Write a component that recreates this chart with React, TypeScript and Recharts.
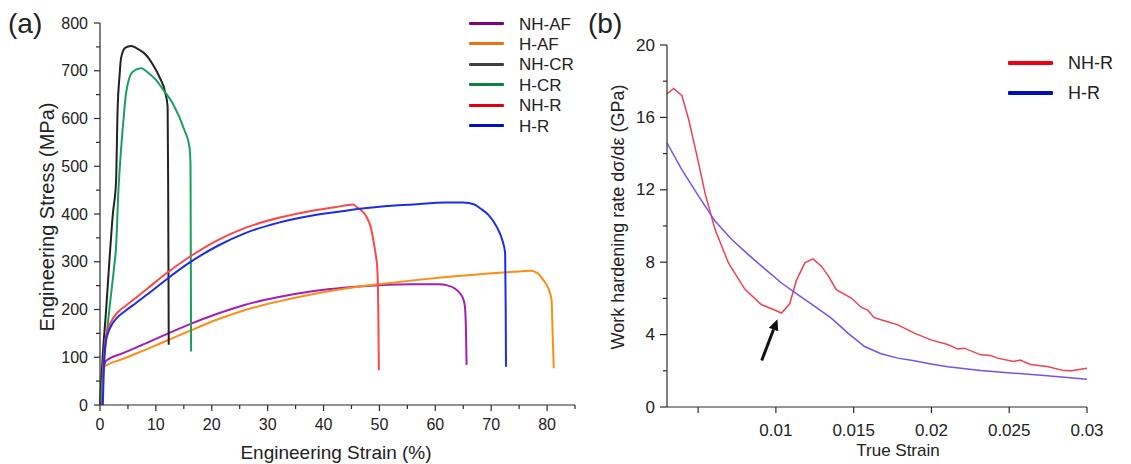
import React from 'react';
import { LineChart, Line, XAxis, YAxis, ReferenceLine } from 'recharts';

const FONT = '"Liberation Sans", Arial, Helvetica, sans-serif';
const AXIS = '#2a2a2a';

// ---- panel (a): engineering stress vs strain ----
const nhAfStrain = [0.2, 0.6, 1.07, 4, 8.2, 12, 16, 21, 26, 32, 38, 44, 50, 56, 60.8, 62, 63.5, 64.4, 65, 65.3, 65.5, 65.6];
const nhAfStress = [0, 70, 92, 108, 129, 149, 169, 191, 210, 226, 238, 246, 251, 253, 253, 251, 244, 234, 222, 206, 150, 84];

const hAfStrain = [0, 0.2, 0.5, 0.77, 4, 8.2, 12, 16, 21, 26, 32, 38, 44, 50, 56, 62, 68, 74, 77, 78.3, 79.3, 80.2, 80.8, 81, 81.2];
const hAfStress = [0, 50, 72, 80, 96, 116, 135, 155, 179, 199, 217, 232, 244, 253, 261, 268, 274, 279, 281, 276, 262, 245, 220, 150, 77];

const nhCrStrain = [0, 0.47, 1.1, 1.67, 2.3, 2.87, 3.15, 3.5, 3.76, 4.5, 5.55, 7, 8.24, 9.5, 10.6, 11.7, 12.1, 12.2, 12.3];
const nhCrStress = [0, 100, 200, 300, 400, 468, 618, 690, 726, 748, 752, 744, 733, 712, 688, 653, 625, 450, 126];

const hCrStrain = [0, 0.77, 1.67, 2.58, 2.87, 3.3, 3.76, 4.3, 4.66, 5.85, 7.35, 8.5, 10, 11.2, 13, 15.1, 16, 16.2, 16.3];
const hCrStress = [0, 100, 200, 295, 330, 450, 534, 610, 653, 698, 705, 697, 681, 662, 632, 576, 541, 503, 112];

const nhRStrain = [0.4, 0.6, 0.9, 1.3, 2, 3, 4.5, 6.5, 8.5, 12, 16, 21, 26, 32, 38, 42, 45.3, 45.9, 47, 47.7, 48.5, 48.9, 49.4, 49.6, 49.8, 49.9];
const nhRStress = [0, 80, 130, 155, 175, 192, 207, 225, 244, 277, 310, 345, 371, 392, 407, 414, 420, 415, 405, 394, 370, 346, 310, 290, 200, 73];

const hRStrain = [0.5, 0.7, 1, 1.5, 2.2, 3, 4.5, 6.5, 8.5, 12, 16, 21, 26, 32, 38, 44, 50, 56, 62, 65, 67, 68, 69.5, 71, 72, 72.5, 72.6, 72.65];
const hRStress = [0, 80, 130, 153, 170, 182, 197, 214, 232, 264, 298, 333, 360, 382, 397, 407, 415, 420, 424, 424, 420, 412, 398, 373, 345, 318, 200, 80];

const seriesA = [
  { name: 'NH-AF', x: nhAfStrain, y: nhAfStress, color: '#a31eb3', legend: '#800080' },
  { name: 'H-AF', x: hAfStrain, y: hAfStress, color: '#ff8c14', legend: '#f07010' },
  { name: 'NH-CR', x: nhCrStrain, y: nhCrStress, color: '#222222', legend: '#404040' },
  { name: 'H-CR', x: hCrStrain, y: hCrStress, color: '#16a05c', legend: '#108040' },
  { name: 'NH-R', x: nhRStrain, y: nhRStress, color: '#ff4646', legend: '#e00010' },
  { name: 'H-R', x: hRStrain, y: hRStress, color: '#1a2ee6', legend: '#0010c0' },
];

const strainTicks = [0, 5, 10, 15, 20, 25, 30, 35, 40, 45, 50, 55, 60, 65, 70, 75, 80, 85];
const stressTicks = [0, 50, 100, 150, 200, 250, 300, 350, 400, 450, 500, 550, 600, 650, 700, 750, 800];

// ---- panel (b): work hardening rate ----
const nhRTrue = [0.003, 0.00343, 0.00396, 0.00439, 0.00492, 0.00545, 0.00609, 0.00695, 0.00801, 0.00908, 0.0098, 0.01036, 0.01089, 0.01132, 0.01186, 0.01239, 0.01292, 0.0134, 0.01388, 0.01485, 0.0155, 0.01591, 0.0163, 0.01676, 0.01784, 0.0189, 0.01997, 0.02104, 0.0217, 0.0221, 0.02317, 0.0238, 0.02424, 0.0253, 0.0257, 0.02637, 0.02744, 0.0285, 0.029, 0.03];
const nhRRate = [17.3, 17.6, 17.2, 15.9, 13.9, 11.8, 9.8, 7.96, 6.5, 5.65, 5.4, 5.19, 5.7, 7.0, 7.96, 8.18, 7.78, 7.2, 6.48, 6.02, 5.5, 5.35, 4.95, 4.82, 4.54, 4.08, 3.71, 3.45, 3.2, 3.25, 2.88, 2.85, 2.7, 2.51, 2.6, 2.35, 2.24, 2.01, 2.0, 2.14];

const hRTrue = [0.003, 0.00396, 0.00503, 0.00609, 0.00716, 0.00823, 0.00929, 0.01036, 0.01143, 0.0125, 0.01356, 0.01463, 0.0157, 0.01676, 0.01784, 0.0189, 0.01997, 0.02104, 0.02317, 0.0253, 0.02744, 0.03];
const hRRate = [14.6, 13.1, 11.65, 10.27, 9.25, 8.42, 7.63, 6.85, 6.2, 5.56, 4.91, 4.08, 3.34, 2.94, 2.7, 2.55, 2.38, 2.23, 2.01, 1.87, 1.72, 1.53];

const seriesB = [
  { name: 'NH-R', x: nhRTrue, y: nhRRate, color: '#f2404c', legend: '#ee0010' },
  { name: 'H-R', x: hRTrue, y: hRRate, color: '#7652ec', legend: '#0010b8' },
];

const trueStrainTicks = [0.005, 0.01, 0.015, 0.02, 0.025, 0.03];
const rateTicks = [0, 2, 4, 6, 8, 10, 12, 14, 16, 18, 20];

// arrow pointing at the NH-R dip
const arrowFrom = { x: 0.00909, y: 2.57 };
const arrowTo = { x: 0.0101, y: 4.85 };

const zip = (xs: number[], ys: number[]) => xs.map((x, i) => ({ x, y: ys[i] }));

const XTickA = ({ x, y, payload }: any) => {
  const major = payload.value % 10 === 0;
  return (
    <g>
      <line x1={x} x2={x} y1={y} y2={y + (major ? 6 : 4)} stroke={AXIS} strokeWidth={1.2} />
      {major && (
        <text x={x} y={y + 19} textAnchor="middle" dominantBaseline="central" fontSize={16} fill="#222" fontFamily={FONT}>
          {payload.value}
        </text>
      )}
    </g>
  );
};

const YTickA = ({ x, y, payload }: any) => {
  const major = payload.value % 100 === 0;
  return (
    <g>
      <line x1={x} x2={x - (major ? 6 : 4)} y1={y} y2={y} stroke={AXIS} strokeWidth={1.2} />
      {major && (
        <text x={x - 12} y={y} textAnchor="end" dominantBaseline="central" fontSize={16} fill="#222" fontFamily={FONT}>
          {payload.value}
        </text>
      )}
    </g>
  );
};

const XTickB = ({ x, y, payload }: any) => (
  <g>
    <line x1={x} x2={x} y1={y} y2={y + 6} stroke={AXIS} strokeWidth={1.2} />
    {payload.value !== 0.005 && (
      <text x={x} y={y + 23} textAnchor="middle" dominantBaseline="central" fontSize={17} fill="#222" fontFamily={FONT}>
        {payload.value}
      </text>
    )}
  </g>
);

const YTickB = ({ x, y, payload }: any) => {
  const major = payload.value % 4 === 0;
  return (
    <g>
      <line x1={x} x2={x - (major ? 7 : 4)} y1={y} y2={y} stroke={AXIS} strokeWidth={1.2} />
      {major && (
        <text x={x - 12} y={y} textAnchor="end" dominantBaseline="central" fontSize={17} fill="#222" fontFamily={FONT}>
          {payload.value}
        </text>
      )}
    </g>
  );
};

const Arrow = (props: any) => {
  const { x1, y1, x2, y2 } = props;
  if (x1 == null) return null;
  const ang = Math.atan2(y2 - y1, x2 - x1);
  const len = 11;
  const w = 5;
  const bx = x2 - len * Math.cos(ang);
  const by = y2 - len * Math.sin(ang);
  const px = -Math.sin(ang) * w;
  const py = Math.cos(ang) * w;
  return (
    <g>
      <line x1={x1} y1={y1} x2={bx} y2={by} stroke="#111" strokeWidth={3} />
      <polygon points={`${x2},${y2} ${bx + px},${by + py} ${bx - px},${by - py}`} fill="#111" />
    </g>
  );
};

const abs = (left: number, top: number): React.CSSProperties => ({ position: 'absolute', left, top });

const Title = ({ text, cx, cy, size, rotate }: { text: string; cx: number; cy: number; size: number; rotate?: boolean }) => (
  <div
    style={{
      ...abs(cx, cy),
      transform: `translate(-50%, -50%)${rotate ? ' rotate(-90deg)' : ''}`,
      whiteSpace: 'nowrap',
      fontSize: size,
      fontFamily: FONT,
      color: '#222',
      lineHeight: 1,
    }}
  >
    {text}
  </div>
);

const LegendRow = ({ color, label, x, y, lineW, thick, size }: any) => (
  <>
    <div style={{ ...abs(x, y - thick / 2), width: lineW, height: thick, background: color, borderRadius: 1 }} />
    <div style={{ ...abs(x + lineW + 15, y), transform: 'translateY(-50%)', fontSize: size, fontFamily: FONT, color: '#222', lineHeight: 1, whiteSpace: 'nowrap' }}>
      {label}
    </div>
  </>
);

export default function App() {
  return (
    <div style={{ position: 'absolute', left: 0, top: 0, width: 1131, height: 464, background: '#fff', overflow: 'hidden' }}>
      <div style={abs(0, 0)}>
        <LineChart width={600} height={464} margin={{ top: 23, right: 25, bottom: 0, left: 0 }}>
          <XAxis
            type="number"
            dataKey="x"
            domain={[0, 85]}
            ticks={strainTicks}
            interval={0}
            height={59}
            tickSize={0}
            tickMargin={0}
            tickLine={false}
            tick={<XTickA />}
            stroke={AXIS}
            strokeWidth={1.2}
            allowDuplicatedCategory={false}
          />
          <YAxis
            type="number"
            dataKey="y"
            domain={[0, 800]}
            ticks={stressTicks}
            interval={0}
            width={100}
            tickSize={0}
            tickMargin={0}
            tickLine={false}
            tick={<YTickA />}
            stroke={AXIS}
            strokeWidth={1.2}
          />
          {seriesA.map((s) => (
            <Line
              key={s.name}
              data={zip(s.x, s.y)}
              dataKey="y"
              type="monotone"
              stroke={s.color}
              strokeWidth={2}
              dot={false}
              isAnimationActive={false}
            />
          ))}
        </LineChart>
      </div>

      <div style={abs(600, 0)}>
        <LineChart width={531} height={464} margin={{ top: 45, right: 44, bottom: 0, left: 0 }}>
          <XAxis
            type="number"
            dataKey="x"
            domain={[0.003, 0.03]}
            ticks={trueStrainTicks}
            interval={0}
            height={57}
            tickSize={0}
            tickMargin={0}
            tickLine={false}
            tick={<XTickB />}
            stroke={AXIS}
            strokeWidth={1.2}
            allowDataOverflow
          />
          <YAxis
            type="number"
            dataKey="y"
            domain={[0, 20]}
            ticks={rateTicks}
            interval={0}
            width={67}
            tickSize={0}
            tickMargin={0}
            tickLine={false}
            tick={<YTickB />}
            stroke={AXIS}
            strokeWidth={1.2}
          />
          {seriesB.map((s) => (
            <Line
              key={s.name}
              data={zip(s.x, s.y)}
              dataKey="y"
              type="linear"
              stroke={s.color}
              strokeWidth={1.5}
              dot={false}
              isAnimationActive={false}
            />
          ))}
          <ReferenceLine segment={[arrowFrom, arrowTo]} shape={<Arrow />} ifOverflow="visible" />
        </LineChart>
      </div>

      {/* panel labels */}
      <div style={{ ...abs(8, 10), fontSize: 28, fontFamily: FONT, color: '#222', lineHeight: 1 }}>(a)</div>
      <div style={{ ...abs(588, 10), fontSize: 28, fontFamily: FONT, color: '#222', lineHeight: 1 }}>(b)</div>

      {/* axis titles */}
      <Title text="Engineering Stress (MPa)" cx={47} cy={217} size={20} rotate />
      <Title text="Engineering Strain (%)" cx={336} cy={452} size={19} />
      <Title text="Work hardening rate dσ/dε (GPa)" cx={618} cy={217} size={18} rotate />
      <Title text="True Strain" cx={898} cy={450} size={17} />

      {/* legends */}
      {seriesA.map((s, i) => (
        <LegendRow key={s.name} color={s.legend} label={s.name} x={469} y={23.5 + i * 20.4} lineW={35} thick={3} size={17} />
      ))}
      {seriesB.map((s, i) => (
        <LegendRow key={s.name} color={s.legend} label={s.name} x={1008} y={63 + i * 30} lineW={45} thick={4} size={18} />
      ))}
    </div>
  );
}
